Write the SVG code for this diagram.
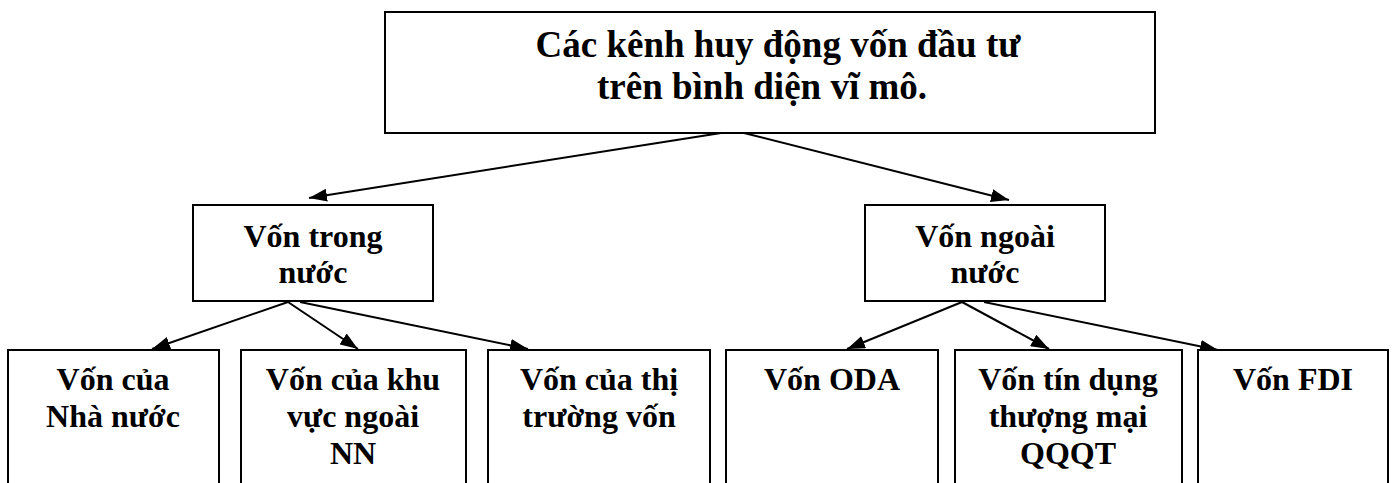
<svg xmlns="http://www.w3.org/2000/svg" width="1395" height="483" viewBox="0 0 1395 483">
<style>
.box{fill:#fff;stroke:#000;stroke-width:2}
.t{font-family:"Liberation Serif","Times New Roman",serif;font-weight:bold;fill:#000;text-anchor:middle}
.title{font-size:37px}
.n{font-size:32px}
.c{stroke:#000;stroke-width:2;fill:none;marker-end:url(#ah)}
</style>
<defs>
<marker id="ah" viewBox="0 0 18 13" refX="18" refY="6.5" markerWidth="18" markerHeight="13" markerUnits="userSpaceOnUse" orient="auto">
<path d="M0,0 L18,6.5 L0,13 Z" fill="#000"/>
</marker>
</defs>
<rect width="1395" height="483" fill="#fff"/>
<g id="connectors">
<line class="c" x1="721" y1="133" x2="309" y2="198"/>
<line class="c" x1="744" y1="133" x2="1009" y2="200"/>
<line class="c" x1="288" y1="302" x2="152" y2="349"/>
<line class="c" x1="288" y1="302" x2="358" y2="349"/>
<line class="c" x1="300" y1="302" x2="528" y2="349"/>
<line class="c" x1="962" y1="302" x2="847" y2="349"/>
<line class="c" x1="962" y1="302" x2="1049" y2="349"/>
<line class="c" x1="984" y1="302" x2="1218" y2="350"/>
</g>
<g id="root">
<rect class="box" x="385" y="12" width="770" height="121"/>
<text class="t title" x="778" y="57">Các kênh huy động vốn đầu tư</text>
<text class="t title" x="762" y="99">trên bình diện vĩ mô.</text>
</g>
<g id="trong-nuoc">
<rect class="box" x="193" y="205" width="240" height="96"/>
<text class="t n" x="313" y="247">Vốn trong</text>
<text class="t n" x="313" y="283">nước</text>
</g>
<g id="ngoai-nuoc">
<rect class="box" x="865" y="205" width="240" height="96"/>
<text class="t n" x="985" y="247">Vốn ngoài</text>
<text class="t n" x="985" y="283">nước</text>
</g>
<g id="nha-nuoc">
<rect class="box" x="8" y="350" width="211" height="145"/>
<text class="t n" x="113" y="390">Vốn của</text>
<text class="t n" x="113" y="427">Nhà nước</text>
</g>
<g id="ngoai-nn">
<rect class="box" x="241" y="350" width="225" height="145"/>
<text class="t n" x="353" y="390">Vốn của khu</text>
<text class="t n" x="353" y="427">vực ngoài</text>
<text class="t n" x="353" y="464">NN</text>
</g>
<g id="thi-truong">
<rect class="box" x="488" y="350" width="222" height="145"/>
<text class="t n" x="599" y="390">Vốn của thị</text>
<text class="t n" x="599" y="427">trường vốn</text>
</g>
<g id="oda">
<rect class="box" x="726" y="350" width="212" height="145"/>
<text class="t n" x="832" y="390">Vốn ODA</text>
</g>
<g id="tin-dung">
<rect class="box" x="955" y="350" width="227" height="145"/>
<text class="t n" x="1068" y="390">Vốn tín dụng</text>
<text class="t n" x="1068" y="427">thượng mại</text>
<text class="t n" x="1068" y="464">QQQT</text>
</g>
<g id="fdi">
<rect class="box" x="1198" y="350" width="190" height="145"/>
<text class="t n" x="1293" y="390">Vốn FDI</text>
</g>
</svg>
